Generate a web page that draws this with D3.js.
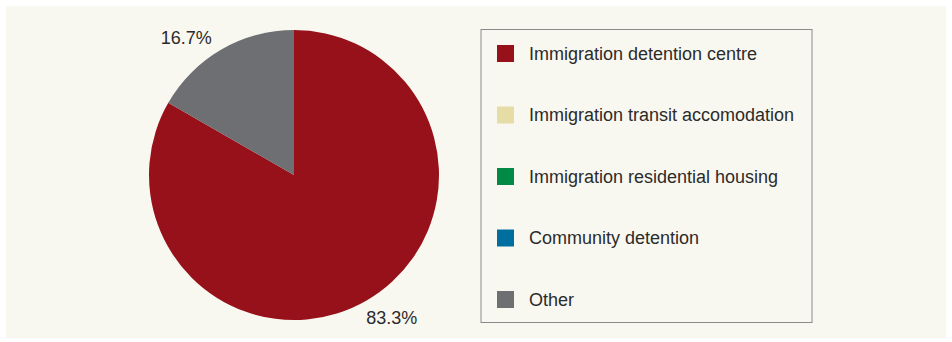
<!DOCTYPE html>
<html>
<head>
<meta charset="utf-8">
<script src="https://cdn.jsdelivr.net/npm/d3@7"></script>
<style>
  body { margin: 0; background: #fff; }
  svg { display: block; font-family: "Liberation Sans", Arial, Helvetica, sans-serif; }
</style>
</head>
<body>
<div id="chart"></div>
<script>
    // Data
    const categories = [
      "Immigration detention centre",
      "Immigration transit accomodation",
      "Immigration residential housing",
      "Community detention",
      "Other"
    ];
    const shares = [83.3, 0, 0, 0, 16.7];
    const colors = ["#96111a", "#e6dca6", "#008a45", "#006fa0", "#6e6f72"];

    const width = 952;
    const height = 342;

    const svg = d3.select("#chart")
      .append("svg")
      .attr("width", width)
      .attr("height", height);

    // cream panel
    svg.append("rect")
      .attr("x", 6).attr("y", 6)
      .attr("width", 940).attr("height", 332)
      .attr("fill", "#f9f8f0");

    const color = d3.scaleOrdinal().domain(categories).range(colors);

    const data = categories.map((c, i) => ({ name: c, value: shares[i] }));

    // Pie
    const cx = 294, cy = 175, radius = 145;
    const pie = d3.pie().sort(null).value(d => d.value);
    const arcs = pie(data).filter(d => d.data.value > 0);

    const arc = d3.arc().innerRadius(0).outerRadius(radius);
    const labelArc = d3.arc().innerRadius(164).outerRadius(164);

    const g = svg.append("g").attr("transform", `translate(${cx},${cy})`);

    g.selectAll("path")
      .data(arcs)
      .enter()
      .append("path")
      .attr("d", arc)
      .attr("fill", d => color(d.data.name));

    g.selectAll("text")
      .data(arcs)
      .enter()
      .append("text")
      .attr("transform", d => {
        const [x, y] = labelArc.centroid(d);
        return `translate(${x},${y})`;
      })
      .attr("dy", d => ((d.startAngle + d.endAngle) / 2 > Math.PI ? "0.6em" : "0.4em"))
      .attr("dx", d => ((d.startAngle + d.endAngle) / 2 > Math.PI ? 0 : -10))
      .attr("text-anchor", d => ((d.startAngle + d.endAngle) / 2 > Math.PI ? "end" : "start"))
      .style("font-size", "18px")
      .style("fill", "#2b2b2b")
      .text(d => d.data.value.toFixed(1) + "%");

    // Legend
    const legend = svg.append("g");
    legend.append("rect")
      .attr("x", 481).attr("y", 29.5)
      .attr("width", 331).attr("height", 293)
      .attr("fill", "#f9f8f0")
      .attr("stroke", "#8a8a8a")
      .attr("stroke-width", 1);

    const rowY = d3.scalePoint()
      .domain(categories)
      .range([53.5, 299.5]);

    const rows = legend.selectAll("g.row")
      .data(categories)
      .enter()
      .append("g")
      .attr("class", "row")
      .attr("transform", d => `translate(497,${rowY(d)})`);

    rows.append("rect")
      .attr("x", 0).attr("y", -8.5)
      .attr("width", 17).attr("height", 17)
      .attr("fill", d => color(d));

    rows.append("text")
      .attr("x", 32)
      .attr("dy", "0.35em")
      .style("font-size", "18px")
      .style("fill", "#2b2b2b")
      .text(d => d);
</script>
</body>
</html>
